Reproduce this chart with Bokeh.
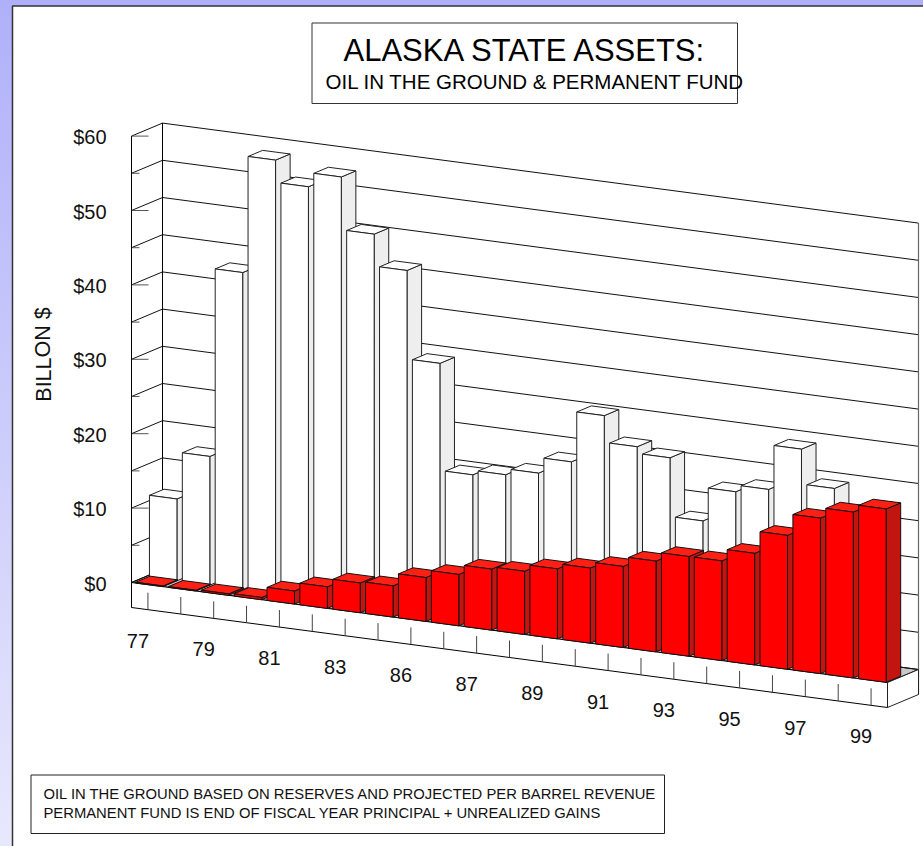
from bokeh.plotting import figure
from bokeh.models import Range1d
from bokeh.core.properties import value
from bokeh.embed import file_html
from bokeh.resources import INLINE

# ---- data (billion $) ----
years = list(range(77, 100))
oil_in_ground = [11.0, 17.3, 42.6, 58.3, 55.3, 57.2, 50.1, 45.8, 33.9, 19.5, 20.1,
                 20.9, 23.0, 29.8, 26.2, 25.3, 17.4, 21.9, 22.8, 28.8, 24.1]
permanent_fund = [0.1, 0.1, 0.2, 0.3, 1.75, 2.9, 4.0, 4.2, 5.9, 6.9, 8.2, 8.5,
                  9.4, 10.1, 10.9, 12.2, 13.4, 13.4, 15.0, 18.0, 20.9, 22.3, 23.3]
x_tick_labels = ["77", "79", "81", "83", "86", "87", "89", "91", "93", "95", "97", "99"]
y_tick_values = [0, 10, 20, 30, 40, 50, 60]
y_minor_values = [0, 5, 10, 15, 20, 25, 30, 35, 40, 45, 50, 55, 60]
title_main = "ALASKA STATE ASSETS:"
title_sub = "OIL IN THE GROUND & PERMANENT FUND"
y_title = "BILLON $"
note_lines = ["OIL IN THE GROUND BASED ON RESERVES AND PROJECTED PER BARREL REVENUE",
              "PERMANENT FUND IS END OF FISCAL YEAR PRINCIPAL + UNREALIZED GAINS"]

# ---- oblique projection of (slot, depth, value) on the page ----
OX, OY = 131.0, 582.0
SLOT = 756.0 / 23
SLOPE = 100.0 / 756
DX, DY = 31.0, -13.0
PX_PER_UNIT = 7.44
N = len(years)
FONT = value("Liberation Sans")


def proj(slot, depth, val):
    X = OX + slot * SLOT + DX * depth
    Y = OY + slot * SLOT * SLOPE + DY * depth - val * PX_PER_UNIT
    return X, Y


def poly(*pts):
    c = [proj(*q) for q in pts]
    return [a for a, _ in c], [b for _, b in c]


p = figure(width=923, height=846, output_backend="svg", toolbar_location=None,
           x_range=Range1d(0, 923), y_range=Range1d(846, 0), min_border=0,
           background_fill_color=None, border_fill_color=None, outline_line_color=None)
p.axis.visible = False
p.grid.visible = False
p.styles = {"position": "fixed", "left": "0", "top": "0",
            "background": "linear-gradient(#b0b0fa, #e8e8fd)"}

# white panel
p.quad(left=[12], right=[930], top=[5.5], bottom=[850], fill_color="white",
       line_color="#333333", line_width=1.5)

# walls and floor
top = y_minor_values[-1]
p.patch(*poly((0, 1, 0), (N, 1, 0), (N, 1, top), (0, 1, top)), fill_color="white", line_color=None)
p.patch(*poly((0, 0, 0), (0, 1, 0), (N, 1, 0), (N, 0, 0)), fill_color="#c8c8c8", line_color="black", line_width=1)
for v in y_minor_values:
    xs, ys = poly((0, 0, v), (0, 1, v), (N, 1, v))
    p.line(xs, ys, line_color="#111111", line_width=1)
    # short marks on the front of the wall
    tx, ty = proj(0, 0, v)
    p.line([tx, tx + (17 if v in y_tick_values else 8)], [ty, ty], line_color="#555555", line_width=1)
xs, ys = poly((0, 0, -25 / PX_PER_UNIT), (0, 0, top))
p.line(xs, ys, line_color="black", line_width=1)
xs, ys = poly((0, 1, 0), (0, 1, top))
p.line(xs, ys, line_color="black", line_width=1)
xs, ys = poly((N, 1, -25 / PX_PER_UNIT), (N, 1, top))
p.line(xs, ys, line_color="#666666", line_width=1.2)

# front strip under the floor
drop = -25 / PX_PER_UNIT
p.patch(*poly((0, 0, 0), (N, 0, 0), (N, 0, drop), (0, 0, drop)), fill_color="white", line_color="black", line_width=1)
p.patch(*poly((N, 0, 0), (N, 1, 0), (N, 1, drop), (N, 0, drop)), fill_color="white", line_color="#222222", line_width=1)
for i in range(N):
    tx, ty = proj(i + 0.5, 0, 0)
    p.line([tx, tx], [ty + 8, ty + 25], line_color="#444444", line_width=1)


def bar(slot, val, d0, d1, face, toplid, side, edge):
    a, b = 4.0 / SLOT, 31.5 / SLOT
    s0, s1 = slot + a, slot + b
    p.patch(*poly((s1, d0, 0), (s1, d1, 0), (s1, d1, val), (s1, d0, val)),
            fill_color=side, line_color=edge, line_width=1)
    p.patch(*poly((s0, d0, val), (s1, d0, val), (s1, d1, val), (s0, d1, val)),
            fill_color=toplid, line_color=edge, line_width=1)
    p.patch(*poly((s0, d0, 0), (s1, d0, 0), (s1, d0, val), (s0, d0, val)),
            fill_color=face, line_color=edge, line_width=1)


for i, v in enumerate(oil_in_ground):
    bar(i, v, 0.45, 0.92, "white", "white", "#eeeeee", "#222222")
for i, v in enumerate(permanent_fund):
    bar(i, v, 0.0, 0.47, "#ff0000", "#ff2015", "#c21510", "#111111")

# tick labels
lx, ly = [], []
for k in range(len(x_tick_labels)):
    tx, ty = proj(2 * k + 0.5, 0, 0)
    lx.append(tx - 10)
    ly.append(ty + 56)
p.text(lx, ly, text=x_tick_labels, text_font=FONT, text_font_size="20px", text_color="#111111",
       text_align="center", text_baseline="middle")
yx, yy = [], []
for v in y_tick_values:
    tx, ty = proj(0, 0, v)
    yx.append(tx - 25)
    yy.append(ty + 1)
p.text(yx, yy, text=[f"${v}" for v in y_tick_values], text_font=FONT, text_font_size="20px",
       text_color="#111111", text_align="right", text_baseline="middle")
p.text([43], [354], text=[y_title], angle=[90], angle_units="deg", text_font=FONT, text_font_size="21.5px",
       text_color="#111111", text_align="center", text_baseline="middle")

# title box
p.quad(left=[311.5], right=[737], top=[22.5], bottom=[103], fill_color=None, line_color="#333333", line_width=1)
p.text([343], [50], text=[title_main], text_font=FONT, text_font_size="31px", text_color="black",
       text_align="left", text_baseline="middle")
p.text([325], [81], text=[title_sub], text_font=FONT, text_font_size="20.5px", text_color="black",
       text_align="left", text_baseline="middle")

# note box
p.quad(left=[30.5], right=[664], top=[774.5], bottom=[833], fill_color=None, line_color="#222222", line_width=1)
p.text([43, 43], [793, 812], text=note_lines, text_font=FONT, text_font_size="14.8px", text_color="#111111",
       text_align="left", text_baseline="middle")

open("out.html", "w").write(file_html(p, INLINE))
